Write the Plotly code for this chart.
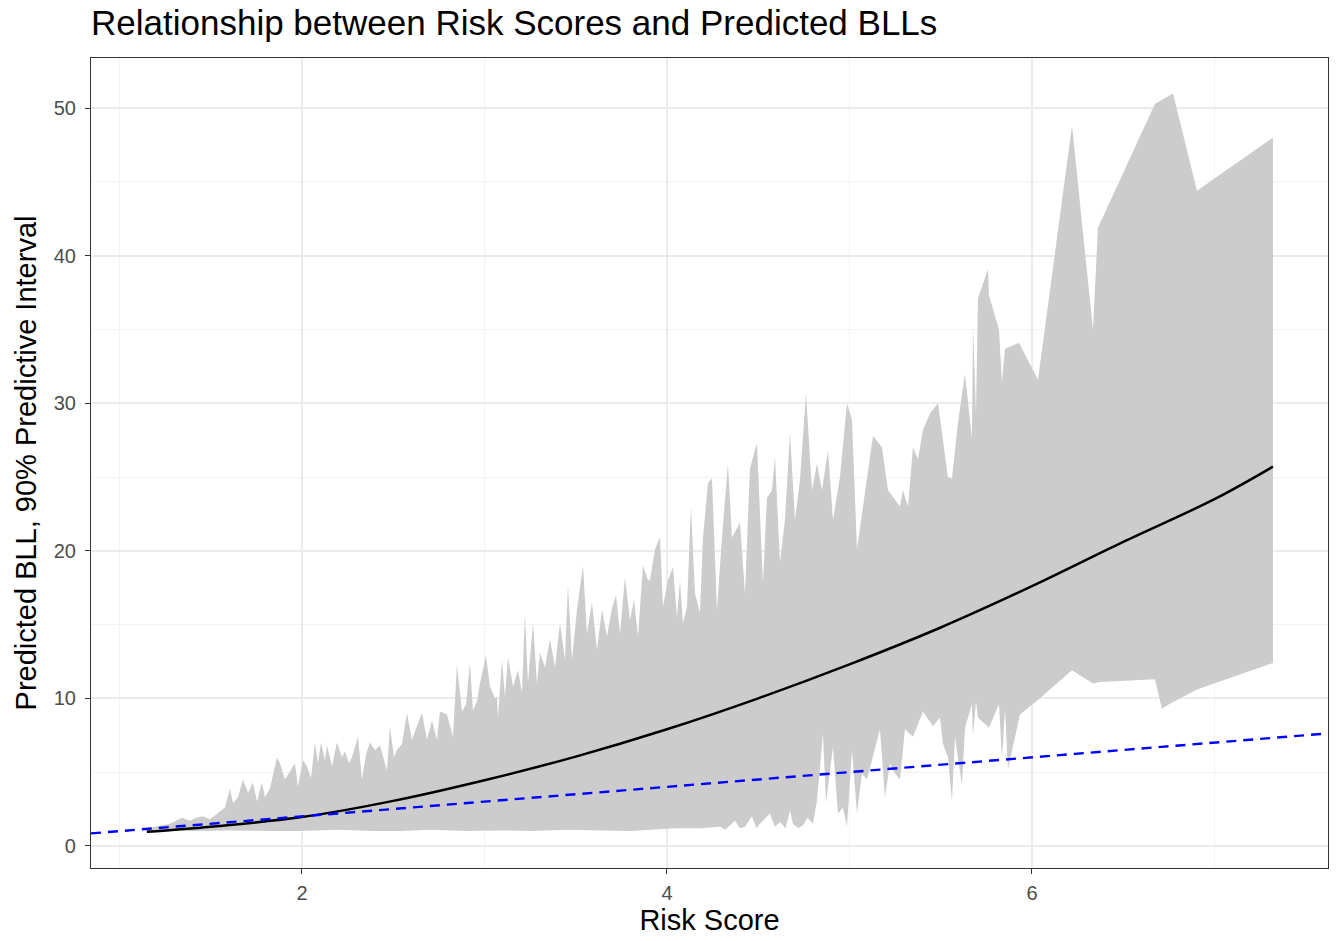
import plotly.graph_objects as go

# Upper bound of the 90% predictive interval (risk score, predicted BLL)
upper_risk = [
    1.1507, 1.2110, 1.2767, 1.3425, 1.3863, 1.4192, 1.4575, 1.4959, 1.5397, 1.5781,
    1.6055, 1.6219, 1.6493, 1.6767, 1.7041, 1.7315, 1.7534, 1.7808, 1.7973, 1.8247,
    1.8630, 1.8795, 1.9068, 1.9342, 1.9616, 1.9781, 2.0055, 2.0274, 2.0493, 2.0712,
    2.0877, 2.1041, 2.1260, 2.1370, 2.1644, 2.1918, 2.2192, 2.2356, 2.2575, 2.2740,
    2.3068, 2.3288, 2.3507, 2.3726, 2.4000, 2.4274, 2.4658, 2.4822, 2.5041, 2.5205,
    2.5479, 2.5753, 2.6027, 2.6301, 2.6575, 2.6849, 2.7123, 2.7397, 2.7562, 2.7945,
    2.8274, 2.8493, 2.8767, 2.8986, 2.9205, 2.9370, 2.9589, 2.9753, 3.0082, 3.0301,
    3.0575, 3.0685, 3.0740, 3.0959, 3.1123, 3.1288, 3.1562, 3.1836, 3.2055, 3.2219,
    3.2384, 3.2658, 3.2877, 3.3041, 3.3315, 3.3589, 3.3863, 3.4137, 3.4411, 3.4575,
    3.4795, 3.5068, 3.5397, 3.5616, 3.5890, 3.6164, 3.6438, 3.6712, 3.6986, 3.7205,
    3.7425, 3.7699, 3.7973, 3.8192, 3.8411, 3.8685, 3.8959, 3.9068, 3.9342, 3.9616,
    3.9781, 4.0055, 4.0329, 4.0548, 4.0712, 4.0877, 4.1096, 4.1315, 4.1534, 4.1808,
    4.1973, 4.2247, 4.2466, 4.2740, 4.3014, 4.3342, 4.3562, 4.4000, 4.4274, 4.4548,
    4.4932, 4.5260, 4.5479, 4.5753, 4.5918, 4.6192, 4.6466, 4.6740, 4.7014, 4.7288,
    4.7616, 4.7945, 4.8219, 4.8493, 4.8822, 4.9096, 4.9479, 4.9863, 5.0137, 5.0411,
    5.0740, 5.1288, 5.1781, 5.2110, 5.2767, 5.2932, 5.3205, 5.3479, 5.3753, 5.4027,
    5.4411, 5.4849, 5.5397, 5.5616, 5.5945, 5.6329, 5.6712, 5.6767, 5.6932, 5.7041,
    5.7589, 5.7644, 5.8192, 5.8356, 5.8521, 5.9288, 6.0329, 6.2192, 6.3342, 6.3616,
    6.6740, 6.7726, 6.9041, 7.3205,
]
upper_bll = [
    1.2, 1.35, 1.5, 1.9, 1.7, 1.9, 2.0, 1.8, 2.2, 2.6,
    3.9, 2.9, 3.3, 4.5, 3.6, 4.3, 3.0, 4.3, 3.3, 3.9,
    6.0, 5.6, 4.5, 5.1, 5.6, 4.0, 5.8, 5.4, 4.6, 7.0,
    5.6, 7.0, 5.8, 6.8, 5.4, 7.0, 6.0, 6.4, 5.6, 6.0,
    7.4, 4.5, 6.2, 7.0, 6.5, 6.8, 5.1, 8.1, 6.0, 6.5,
    6.9, 9.0, 7.2, 8.1, 9.0, 7.2, 8.5, 7.2, 9.1, 8.9,
    7.4, 12.3, 9.1, 9.6, 12.4, 9.2, 9.8, 11.0, 12.9, 10.8,
    10.0, 10.1, 8.7, 12.6, 10.1, 12.8, 10.8, 11.9, 10.4, 15.7,
    11.0, 15.1, 11.0, 13.1, 12.1, 14.0, 12.1, 15.1, 12.6, 17.7,
    12.6, 16.0, 19.0, 14.4, 16.5, 13.3, 16.0, 14.2, 16.1, 17.0,
    14.4, 18.2, 15.3, 16.7, 14.2, 19.0, 18.0, 18.0, 20.1, 20.9,
    16.2, 18.0, 18.9, 15.5, 18.0, 15.1, 16.2, 23.0, 17.1, 15.8,
    20.9, 24.6, 24.9, 16.0, 20.9, 25.9, 20.9, 21.9, 17.1, 25.6,
    27.3, 17.8, 23.6, 24.1, 26.4, 19.2, 22.1, 28.0, 22.1, 24.8,
    30.7, 24.1, 25.9, 24.1, 26.8, 22.1, 25.0, 30.0, 28.9, 20.1,
    23.0, 27.8, 27.0, 24.1, 23.0, 24.1, 23.0, 27.0, 26.2, 28.2,
    29.3, 30.0, 25.0, 24.9, 28.7, 32.0, 27.6, 35.3, 29.3, 37.1,
    39.1, 37.3, 35.0, 31.4, 33.7, 34.1, 31.6, 48.8, 35.0, 41.9,
    50.3, 51.0, 44.4, 48.0,
]

# Lower bound of the 90% predictive interval
lower_risk = [
    1.1507, 1.30, 1.4411, 1.60, 1.7151, 1.85, 1.9890, 2.20, 2.40, 2.5370,
    2.70, 2.90, 3.0849, 3.25, 3.45, 3.6329, 3.80, 3.9068, 4.05, 4.1808,
    4.2904, 4.3200, 4.3726, 4.4000, 4.4274, 4.4658, 4.4900, 4.5096, 4.5644, 4.5900,
    4.6192, 4.6500, 4.6740, 4.6904, 4.7200, 4.7452, 4.7700,
    4.8000, 4.8219, 4.8548, 4.8712, 4.9096, 4.9370, 4.9644, 4.9863, 5.0137, 5.0411,
    5.0685, 5.0959, 5.1288, 5.1671, 5.1945, 5.2219, 5.2384, 5.2767, 5.3041, 5.3479,
    5.4027, 5.4575, 5.4959, 5.5123, 5.5397, 5.5616, 5.5781, 5.6164, 5.6329, 5.6712,
    5.6767, 5.6932, 5.7041, 5.7644, 5.8192, 5.8356, 5.8521, 5.8685, 5.9342, 6.0438,
    6.2192, 6.3342, 6.3726, 6.6740, 6.7123, 6.7507, 6.9041, 7.3205,
]
lower_bll = [
    0.9, 1.0, 1.0, 1.05, 1.05, 1.0, 1.0, 1.1, 1.0, 1.0,
    1.1, 1.0, 1.05, 1.0, 1.1, 1.05, 1.0, 1.1, 1.2, 1.2,
    1.3, 1.1, 1.7, 1.2, 1.3, 2.0, 1.2, 1.5, 2.2, 1.3,
    1.6, 1.2, 2.4, 1.5, 1.2, 1.4, 1.9,
    1.5, 3.1, 7.6, 2.9, 6.7, 2.2, 2.6, 1.3, 6.5, 2.2,
    4.9, 4.5, 6.0, 7.9, 3.3, 5.6, 5.1, 4.5, 7.9, 7.4,
    9.1, 8.1, 8.7, 6.9, 6.0, 3.0, 7.4, 4.1, 8.0, 9.6,
    7.4, 9.8, 8.7, 8.0, 9.6, 5.9, 9.3, 5.2, 8.9, 10.0,
    11.9, 11.0, 11.1, 11.3, 9.3, 9.6, 10.6, 12.4,
]

# Posterior mean prediction
mean_risk = [1.15, 1.5, 2.0, 2.5, 3.0, 3.5, 4.0, 4.5, 5.0, 5.5, 6.0, 6.5, 7.0, 7.32]
mean_bll = [0.95, 1.3, 1.95, 3.05, 4.45, 6.05, 7.9, 10.0, 12.3, 14.8, 17.6, 20.6, 23.5, 25.7]

# Reference line y = x
ref_intercept = 0.0
ref_slope = 1.0

x_range = [0.844, 7.622]
y_range = [-1.5, 53.4]

FONT = "Liberation Sans, Arial, sans-serif"

fig = go.Figure()

fig.add_trace(go.Scatter(
    x=upper_risk + lower_risk[::-1],
    y=upper_bll + lower_bll[::-1],
    fill="toself",
    fillcolor="#cccccc",
    line=dict(width=0, color="rgba(0,0,0,0)"),
    mode="lines",
    hoverinfo="skip",
    showlegend=False,
))

fig.add_trace(go.Scatter(
    x=mean_risk, y=mean_bll, mode="lines",
    line=dict(color="black", width=2.5, shape="spline", smoothing=1.0),
    showlegend=False,
))

fig.add_trace(go.Scatter(
    x=x_range,
    y=[ref_intercept + ref_slope * v for v in x_range],
    mode="lines",
    line=dict(color="#0000ff", width=2.4, dash="10px,7px"),
    showlegend=False,
))

axis_common = dict(
    showline=True, linecolor="#333333", linewidth=1.2, mirror=True,
    showgrid=True, gridcolor="#ebebeb", gridwidth=1.6,
    zeroline=False,
    ticks="outside", ticklen=5, tickcolor="#333333", tickwidth=1.2,
    tickfont=dict(family=FONT, size=20, color="#4d4d4d"),
)

fig.update_layout(
    width=1338, height=941,
    margin=dict(l=91, r=10, t=58, b=73),
    paper_bgcolor="white", plot_bgcolor="white",
    font=dict(family=FONT, color="black"),
    title=dict(
        text="Relationship between Risk Scores and Predicted BLLs",
        x=91 / 1338, xanchor="left", y=1 - 23 / 941, yanchor="middle",
        font=dict(size=35, color="black"),
    ),
    xaxis=dict(
        range=x_range, tick0=0, dtick=2,
        minor=dict(dtick=1, tick0=0, showgrid=True, gridcolor="#f3f3f3", gridwidth=1, ticks=""),
        title=dict(text="Risk Score", font=dict(size=29, color="black"), standoff=6),
        ticklabelstandoff=2,
        **axis_common,
    ),
    yaxis=dict(
        range=y_range, tick0=0, dtick=10,
        minor=dict(dtick=5, tick0=0, showgrid=True, gridcolor="#f3f3f3", gridwidth=1, ticks=""),
        title=dict(text="Predicted BLL, 90% Predictive Interval", font=dict(size=29, color="black"), standoff=8),
        ticklabelstandoff=5,
        **axis_common,
    ),
)

fig.write_html("out.html")
